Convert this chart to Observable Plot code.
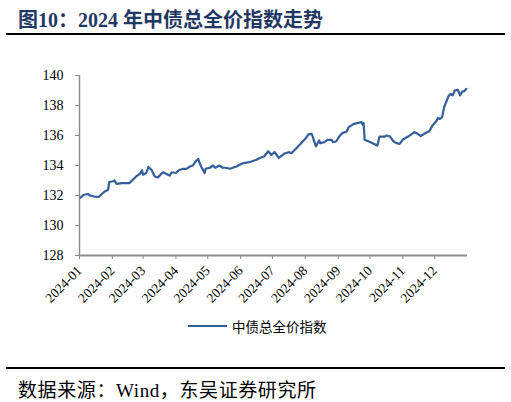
<!DOCTYPE html>
<html>
<head>
<meta charset="utf-8">
<script src="https://cdn.jsdelivr.net/npm/d3@7"></script>
<script src="https://cdn.jsdelivr.net/npm/@observablehq/plot@0.6"></script>
<style>
  body { margin: 0; background: #fff; }
  #page { position: relative; width: 511px; height: 402px; overflow: hidden; font-family: "Liberation Serif", "Noto Sans CJK SC", serif; }
  #title { position: absolute; left: 18px; top: 4px; font-size: 20px; font-weight: bold; color: #1f3864; white-space: nowrap; }
  .rule { position: absolute; left: 6px; width: 499px; height: 2px; background: #000; }
  #chart { position: absolute; left: 0; top: 40px; }
  #chart svg text { font-family: "Liberation Serif", "Times New Roman", serif; }
  #legend { position: absolute; left: 188px; top: 316px; display: flex; align-items: center; font-family: "Noto Sans CJK SC", sans-serif; font-size: 13.5px; color: #000; }
  #legend .swatch { width: 39px; height: 2.5px; background: #345e9a; margin-right: 5px; }
  #source { position: absolute; left: 18px; top: 375px; font-size: 19px; letter-spacing: 0.6px; color: #000; white-space: nowrap; }
</style>
</head>
<body>
<div id="page">
  <div id="title">图10：2024 年中债总全价指数走势</div>
  <div class="rule" style="top:33px"></div>
  <div id="chart"></div>
  <div id="legend"><div class="swatch"></div><span>中债总全价指数</span></div>
  <div class="rule" style="top:367px"></div>
  <div id="source">数据来源：Wind，东吴证券研究所</div>
</div>
<script>
// 中债总全价指数, 2024
const dates = [
  '2024-01-02', '2024-01-05', '2024-01-09', '2024-01-11', '2024-01-15', '2024-01-19', '2024-01-22', '2024-01-25', '2024-01-28', '2024-01-29',
  '2024-02-02', '2024-02-03', '2024-02-05', '2024-02-10', '2024-02-17', '2024-02-21', '2024-02-24', '2024-02-27', '2024-02-29',
  '2024-03-01', '2024-03-04', '2024-03-06', '2024-03-09', '2024-03-12', '2024-03-15', '2024-03-18', '2024-03-20', '2024-03-23', '2024-03-26', '2024-03-28',
  '2024-04-01', '2024-04-04', '2024-04-08', '2024-04-11', '2024-04-14', '2024-04-17', '2024-04-19', '2024-04-22', '2024-04-23', '2024-04-25', '2024-04-28', '2024-04-29',
  '2024-05-03', '2024-05-06', '2024-05-08', '2024-05-12', '2024-05-15', '2024-05-18', '2024-05-22', '2024-05-28',
  '2024-06-03', '2024-06-09', '2024-06-16', '2024-06-19', '2024-06-23', '2024-06-27', '2024-06-30',
  '2024-07-03', '2024-07-07', '2024-07-13', '2024-07-17', '2024-07-19', '2024-07-24', '2024-07-28',
  '2024-08-01', '2024-08-04', '2024-08-07', '2024-08-08', '2024-08-11', '2024-08-14', '2024-08-15', '2024-08-19', '2024-08-22', '2024-08-26', '2024-08-27', '2024-08-30',
  '2024-09-02', '2024-09-05', '2024-09-09', '2024-09-11', '2024-09-16', '2024-09-20', '2024-09-23', '2024-09-24', '2024-09-25', '2024-09-26',
  '2024-10-01', '2024-10-05', '2024-10-08', '2024-10-10', '2024-10-15', '2024-10-17', '2024-10-20', '2024-10-23', '2024-10-26', '2024-10-29',
  '2024-11-01', '2024-11-06', '2024-11-12', '2024-11-15', '2024-11-18', '2024-11-21', '2024-11-26', '2024-11-29',
  '2024-12-03', '2024-12-04', '2024-12-06', '2024-12-08', '2024-12-10', '2024-12-11', '2024-12-14', '2024-12-16', '2024-12-18', '2024-12-20', '2024-12-23', '2024-12-25', '2024-12-27', '2024-12-29', '2024-12-31'
];
const values = [
  131.85, 132.05, 132.1, 132.0, 131.93, 131.9, 132.1, 132.27, 132.38, 132.9,
  132.95, 133.0, 132.78, 132.82, 132.82, 133.1, 133.3, 133.44, 133.67,
  133.38, 133.5, 133.9, 133.7, 133.27, 133.2, 133.44, 133.55, 133.44, 133.33, 133.55,
  133.5, 133.7, 133.78, 133.78, 133.93, 134.0, 134.22, 134.44, 134.22, 133.9, 133.5, 133.78,
  133.85, 134.0, 133.85, 134.0, 133.85, 133.85, 133.78, 133.93,
  134.15, 134.22, 134.38, 134.5, 134.6, 134.95, 134.7,
  134.9, 134.51, 134.82, 134.89, 134.82, 135.18, 135.49,
  135.78, 136.07, 136.11, 135.93, 135.27, 135.67, 135.49, 135.56, 135.71, 135.71, 135.56, 135.6,
  135.93, 136.16, 136.27, 136.56, 136.78, 136.84, 136.89, 136.73, 136.82, 135.71,
  135.56, 135.44, 135.33, 135.93, 135.93, 136.0, 135.93, 135.62, 135.49, 135.44,
  135.73, 135.93, 136.22, 136.11, 135.96, 136.11, 136.29, 136.67,
  137.0, 137.16, 137.11, 137.22, 137.89, 138.07, 138.6, 138.78, 138.67, 139.0, 139.04, 138.67, 138.93, 138.96, 139.11
];
const yTicks = [128, 130, 132, 134, 136, 138, 140];
const monthTicks = ['2024-01', '2024-02', '2024-03', '2024-04', '2024-05', '2024-06', '2024-07', '2024-08', '2024-09', '2024-10', '2024-11', '2024-12'];

const data = dates.map((d, i) => ({date: new Date(d), value: values[i]}));
const tickDates = monthTicks.map(m => new Date(m + '-01'));
const axisColor = '#8c8c8c';
const serif = '"Liberation Serif", "Times New Roman", serif';

const chart = Plot.plot({
  width: 511,
  height: 280,
  marginTop: 35,
  marginBottom: 65,
  marginLeft: 79,
  marginRight: 44,
  style: 'font-family: "Liberation Serif", "Times New Roman", serif; font-size: 13px; color: #000; background: transparent;',
  x: {type: 'utc', domain: [new Date('2024-01-01'), new Date('2025-01-01')]},
  y: {domain: [128, 140]},
  marks: [
    Plot.axisY({ticks: yTicks, tickSize: 4, tickPadding: 12, stroke: axisColor, label: null, fontSize: 14, fontFamily: serif}),
    Plot.axisX({ticks: tickDates, tickFormat: d3.utcFormat('%Y-%m'), tickRotate: -45, tickSize: 4, tickPadding: 9, stroke: axisColor, label: null, fontSize: 13.5, fontFamily: serif}),
    Plot.ruleX([new Date('2024-01-01')], {stroke: axisColor, strokeWidth: 1.5}),
    Plot.ruleY([128], {stroke: axisColor, strokeWidth: 2}),
    Plot.lineY(data, {x: 'date', y: 'value', stroke: '#345e9a', strokeWidth: 2.2})
  ]
});

d3.select('#chart').append(() => chart);
</script>
</body>
</html>
